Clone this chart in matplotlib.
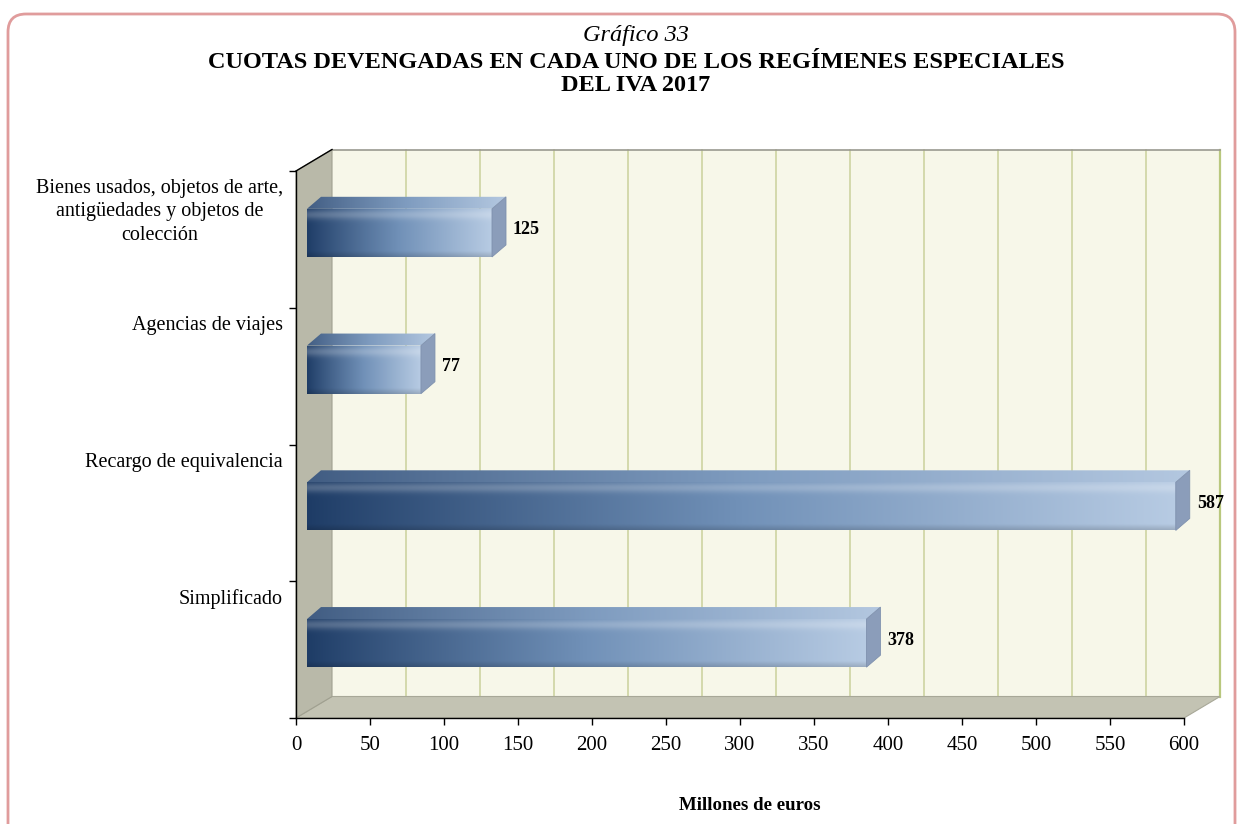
import numpy as np
import matplotlib
matplotlib.use("Agg")
import matplotlib.pyplot as plt
from matplotlib.patches import Polygon, Rectangle, FancyBboxPatch
from matplotlib.transforms import ScaledTranslation, IdentityTransform
from matplotlib.colors import to_rgb

# ---------------- data ----------------
categories = ["Simplificado", "Recargo de equivalencia", "Agencias de viajes",
              "Bienes usados, objetos de arte,\nantigüedades y objetos de\ncolección"]
values = [378, 587, 77, 125]
xticks = list(range(0, 601, 50))
title_top = "Gráfico 33"
title_main = "CUOTAS DEVENGADAS EN CADA UNO DE LOS REGÍMENES ESPECIALES\nDEL IVA 2017"
xlabel = "Millones de euros"

plt.rcParams['font.family'] = ['Liberation Serif', 'DejaVu Serif']

W, H = 1242, 824
fig = plt.figure(figsize=(W / 100, H / 100), dpi=100)
fig.patch.set_facecolor("white")

# outer rounded frame (pixel coords)
frame = FancyBboxPatch((8, -30), 1227, H - 14 + 30,
                       boxstyle="round,pad=0,rounding_size=18",
                       transform=IdentityTransform(), fc="none",
                       ec="#e09c9c", lw=2.0, zorder=10)
fig.patches.append(frame)

ax = fig.add_axes([296 / W, (H - 718) / H, 888 / W, 547 / H])
ax.set_xlim(0, 600)
ax.set_ylim(-0.5, len(categories) - 0.5)
ax.set_autoscale_on(False)
ax.patch.set_visible(False)
for s in ["top", "right"]:
    ax.spines[s].set_visible(False)
for s in ["left", "bottom"]:
    ax.spines[s].set_color("black")
    ax.spines[s].set_linewidth(1.0)
    ax.spines[s].set_zorder(6)
ax.set_xticks(xticks)
ax.set_xticklabels([str(t) for t in xticks], fontsize=15)
ax.set_yticks(np.arange(-0.5, len(categories), 1.0))
ax.set_yticklabels([])
ax.tick_params(direction="out", length=5, width=1.0, color="black", pad=8)

T = ax.transData


def off(dx, dy):
    return T + ScaledTranslation(dx / 100.0, dy / 100.0, fig.dpi_scale_trans)


DX, DY = 36, 21.5   # depth of the chart box (pixels)
ID = IdentityTransform()

# back wall
ymin, ymax = -0.5, len(categories) - 0.5
wall = Rectangle((0, ymin), 600, ymax - ymin, transform=off(DX, DY),
                 fc="#f7f7e9", ec="none", zorder=0.5, clip_on=False)
ax.add_patch(wall)
for v in xticks[1:-1]:
    ax.plot([v, v], [ymin, ymax], transform=off(DX, DY), color="#cdd4a2",
            lw=1.2, zorder=0.6, clip_on=False)
ax.plot([600, 600], [ymin, ymax], transform=off(DX, DY), color="#b9c87e",
        lw=1.6, zorder=0.6, clip_on=False)
ax.plot([0, 600], [ymax, ymax], transform=off(DX, DY), color="#9a9a90",
        lw=1.2, zorder=0.6, clip_on=False)

# floor
p0 = T.transform((0, ymin))
p1 = T.transform((600, ymin))
pt = T.transform((0, ymax))
d = np.array([DX, DY])
floor = Polygon([p0, p1, p1 + d, p0 + d], closed=True, transform=ID,
                fc="#c3c3b3", ec="#a8a898", lw=0.8, zorder=0.7, clip_on=False)
ax.add_patch(floor)
# left side wall
side = Polygon([p0, pt, pt + d, p0 + d], closed=True, transform=ID,
               fc="#b9b9a9", ec="#a0a090", lw=0.8, zorder=0.7, clip_on=False)
ax.add_patch(side)
ax.plot([pt[0], pt[0] + DX], [pt[1], pt[1] + DY], transform=ID,
        color="black", lw=1.0, zorder=6, clip_on=False)

# ---------------- bars ----------------
BH = 0.352           # front face height in category units
BX, BY = 11, 6.5     # position of bars inside the box
DEP = np.array([14, 12])  # bar depth
dark = np.array(to_rgb("#1e3c66"))
mid = np.array(to_rgb("#7191b8"))
light = np.array(to_rgb("#b7cbe3"))


def hgrad(n=256):
    t = np.linspace(0, 1, n)
    cols = np.empty((n, 3))
    for k, tt in enumerate(t):
        if tt < 0.5:
            cols[k] = dark + (mid - dark) * (tt / 0.5) ** 0.9
        else:
            cols[k] = mid + (light - mid) * ((tt - 0.5) / 0.5)
    return cols


def front_image(ny=80):
    cols = hgrad()
    img = np.repeat(cols[None, :, :], ny, axis=0)
    yy = np.linspace(0, 1, ny)  # 0 = top
    for j, y in enumerate(yy):
        w = 0.22 * np.exp(-((y - 0.13) / 0.10) ** 2)
        img[j] = img[j] + (1 - img[j]) * w
        if y > 0.88:
            img[j] = img[j] * (1 - 0.15 * (y - 0.88) / 0.12)
    return np.clip(img, 0, 1)


fimg = front_image()
tcols = hgrad()
timg = np.repeat((tcols * 0.75 + 0.25 * np.array([0.66, 0.74, 0.84]))[None], 10, axis=0)

toff = off(BX, BY)
bars = ax.barh(range(len(categories)), values, height=BH, left=0,
               transform=toff, color="#7191b8", edgecolor="none", zorder=3)
for i, (v, bar) in enumerate(zip(values, bars)):
    bar.set_clip_on(False)
    y0, y1 = i - BH / 2, i + BH / 2
    im = ax.imshow(fimg, extent=(0, v, y0, y1), transform=toff, aspect="auto",
                   origin="upper", zorder=3.1, interpolation="bilinear")
    im.set_clip_box(fig.bbox)
    im.set_clip_path(bar)
    a = toff.transform((0, y1))
    b = toff.transform((v, y1))
    c = toff.transform((v, y0))
    top = Polygon([a, b, b + DEP, a + DEP], closed=True, transform=ID,
                  fc="none", ec="none", zorder=3, clip_on=False)
    ax.add_patch(top)
    imt = ax.imshow(timg, extent=(0, v + 14 / 1.48, y1, y1 + 0.1),
                    transform=toff, aspect="auto", origin="upper", zorder=3.2,
                    interpolation="bilinear")
    imt.set_clip_box(fig.bbox)
    imt.set_clip_path(top)
    sidef = Polygon([c, b, b + DEP, c + DEP], closed=True, transform=ID,
                    fc="#8b9dba", ec="#7f91ae", lw=0.6, zorder=3.3,
                    clip_on=False)
    ax.add_patch(sidef)
    ax.text(v, i, str(v), transform=off(BX + DEP[0] + 7, BY + 3),
            ha="left", va="center", fontsize=13, fontweight="bold",
            color="black", zorder=7, clip_on=False)

# ---------------- category labels ----------------
for i, lab in enumerate(categories):
    ax.text(0, i + 0.5, lab, transform=off(-13, -8), ha="right", va="top",
            multialignment="center", fontsize=14.5, linespacing=1.32,
            color="black")

# ---------------- titles ----------------
fig.text(636 / W, 1 - 36 / H, title_top, ha="center", va="center",
         fontsize=17.5, fontstyle="italic")
fig.text(636 / W, 1 - 74 / H, title_main, ha="center", va="center",
         fontsize=17.5, fontweight="bold", linespacing=1.1)
fig.text(750 / W, 1 - 805 / H, xlabel, ha="center", va="center",
         fontsize=13.6, fontweight="bold")

fig.savefig("out.png", dpi=100)
